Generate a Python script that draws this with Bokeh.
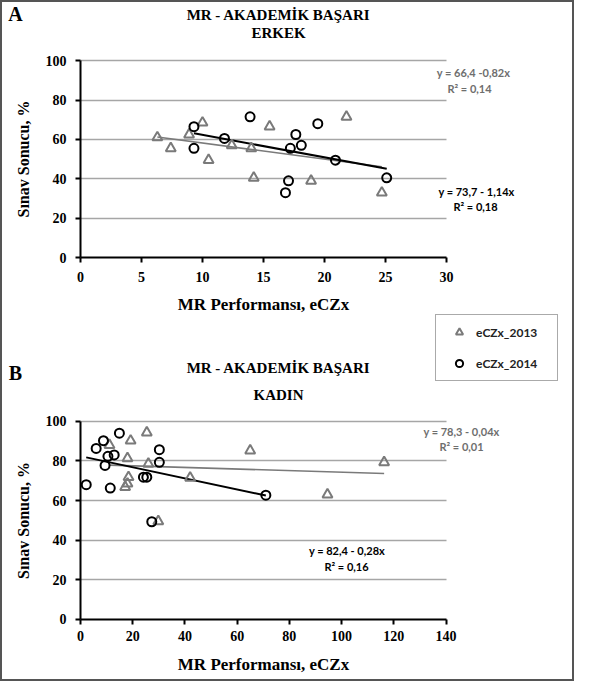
from bokeh.plotting import figure
from bokeh.models import (Range1d, FixedTicker, Label, Legend, LegendItem,
                          LinearAxis, Grid)
from bokeh.embed import file_html
from bokeh.resources import INLINE

# ---------------- data ----------------
# Panel A (ERKEK)
a13_x = [6.3, 7.4, 8.9, 10.0, 10.5, 12.4, 14.0, 14.2, 15.5, 18.9, 21.8, 24.7]
a13_y = [61, 55.5, 62.5, 68.5, 49.5, 57, 55.5, 40.5, 66.5, 39, 71.5, 33]
a14_x = [9.3, 9.3, 11.8, 13.9, 16.8, 17.05, 17.2, 17.65, 18.1, 19.45, 20.9, 25.1]
a14_y = [66.5, 55.5, 60.5, 71.5, 33, 39, 55.5, 62.5, 57, 68, 49.5, 40.5]
a_fit13 = (66.4, -0.82)
a_fit14 = (73.7, -1.14)

# Panel B (KADIN)
b13_x = [11.1, 17.1, 18.0, 18.0, 18.4, 19.2, 25.4, 26.0, 29.8, 42.0, 65.0, 94.6, 116.3]
b13_y = [88, 66.8, 68.5, 81.3, 71.8, 90.2, 94.3, 78.5, 49.5, 71.5, 85.2, 63, 79.3]
b14_x = [2.2, 6.0, 8.8, 9.4, 10.5, 11.4, 12.9, 14.9, 24.1, 25.4, 27.3, 30.2, 30.2, 71.0]
b14_y = [68, 86.3, 90.2, 77.7, 82.3, 66.3, 83, 94, 71.8, 71.8, 49.3, 85.7, 79.3, 62.7]
b_fit13 = (78.3, -0.04)
b_fit14 = (82.4, -0.28)

y_ticks = [0, 20, 40, 60, 80, 100]
a_x_ticks = [0, 5, 10, 15, 20, 25, 30]
b_x_ticks = [0, 20, 40, 60, 80, 100, 120, 140]
A_XMAX, B_XMAX, YMAX = 30, 140, 100

# ---------------- layout (pixels on the canvas) ----------------
W, H = 574, 681
X0PX = 80.0                      # pixel of x = 0 (both panels)
A_X1PX, B_X1PX = 446.0, 445.5    # pixel of x = xmax
A_TOP, A_BOT = 60.1, 257.2       # pixels of y = 100 / y = 0, panel A
B_TOP, B_BOT = 420.8, 618.9      # pixels of y = 100 / y = 0, panel B

GRAY = "#7a7a7a"
SERIF = "'Liberation Serif', 'Times New Roman', serif"
SANS = "Lato"


def span(x0px, x1px, xmax, ytop, ybot):
    sx = (x1px - x0px) / xmax
    sy = (ybot - ytop) / YMAX
    xr = Range1d(-x0px / sx, (W - x0px) / sx)
    yr = Range1d(-(H - ybot) / sy, (ybot) / sy)
    return xr, yr


xrA, yrA = span(X0PX, A_X1PX, A_XMAX, A_TOP, A_BOT)
xrB, yrB = span(X0PX, B_X1PX, B_XMAX, B_TOP, B_BOT)

p = figure(width=W, height=H, output_backend="svg", toolbar_location=None,
           x_range=xrA, y_range=yrA, x_axis_type=None, y_axis_type=None,
           min_border=0, min_border_left=0, min_border_right=0,
           min_border_top=0, min_border_bottom=0)
p.extra_x_ranges = {"xb": xrB}
p.extra_y_ranges = {"yb": yrB}
p.outline_line_color = "#555555"
p.outline_line_width = 3
p.background_fill_color = "white"
p.border_fill_color = "white"


def px(cx, cy):
    """canvas pixel -> data coords of panel A ranges (used for text placement)"""
    x = xrA.start + cx / W * (xrA.end - xrA.start)
    y = yrA.end - cy / H * (yrA.end - yrA.start)
    return x, y


def style_axis(ax):
    ax.axis_line_color = "black"
    ax.axis_line_width = 2
    ax.major_tick_line_color = "black"
    ax.major_tick_line_width = 2
    ax.major_tick_out = 5
    ax.major_tick_in = 0
    ax.minor_tick_line_color = None
    ax.major_label_text_font = SERIF
    ax.major_label_text_font_style = "bold"
    ax.major_label_text_font_size = "14px"
    ax.major_label_text_color = "black"
    ax.axis_label_text_font = SERIF
    ax.axis_label_text_font_style = "bold"
    ax.axis_label_text_color = "black"


def add_axes(xticks, xmax, rn, tick_sd, lab_sd):
    kw = {} if rn is None else {"x_range_name": rn[0], "y_range_name": rn[1]}
    xa = LinearAxis(ticker=FixedTicker(ticks=xticks), bounds=(0, xmax),
                    fixed_location=0, axis_label="MR Performansı, eCZx", **kw)
    style_axis(xa)
    xa.axis_label_text_font_size = "17px"
    xa.major_label_standoff = tick_sd
    xa.axis_label_standoff = lab_sd
    ya = LinearAxis(ticker=FixedTicker(ticks=y_ticks), bounds=(0, YMAX),
                    fixed_location=0, axis_label="Sınav Sonucu, %", **kw)
    style_axis(ya)
    ya.axis_label_text_font_size = "16px"
    ya.major_label_standoff = 9
    ya.axis_label_standoff = 11
    p.add_layout(xa, "below")
    p.add_layout(ya, "left")
    g = Grid(dimension=1, ticker=FixedTicker(ticks=y_ticks[1:]),
             cross_bounds=(0, xmax), grid_line_color="#a6a6a6",
             grid_line_width=1.5, **kw)
    p.add_layout(g)


def fit_line(xs, fit):
    x0, x1 = min(xs), max(xs)
    return [x0, x1], [fit[0] + fit[1] * x0, fit[0] + fit[1] * x1]


def draw(x13, y13, x14, y14, f13, f14, rn=None):
    kw = {} if rn is None else {"x_range_name": rn[0], "y_range_name": rn[1]}
    lx, ly = fit_line(x13, f13)
    p.line(lx, ly, line_color=GRAY, line_width=1.6, **kw)
    lx, ly = fit_line(x14, f14)
    p.line(lx, ly, line_color="black", line_width=2, **kw)
    r13 = p.scatter(x13, y13, marker="triangle", size=10, fill_color=None,
                    line_color=GRAY, line_width=2, **kw)
    r14 = p.scatter(x14, y14, marker="circle", size=9, fill_color=None,
                    line_color="black", line_width=2, **kw)
    return r13, r14


def lbl(cx, cy, text, font=SERIF, size="15px", color="black"):
    x, y = px(cx, cy)
    p.add_layout(Label(x=x, y=y, text=text, text_font=font, text_font_style="bold",
                       text_font_size=size, text_color=color, text_align="center",
                       text_baseline="middle"))


# ---------------- panel A ----------------
add_axes(a_x_ticks, A_XMAX, None, 9, 10)
draw(a13_x, a13_y, a14_x, a14_y, a_fit13, a_fit14)
lbl(15, 13.8, "A", size="20px")
lbl(278, 14.8, "MR - AKADEMİK BAŞARI")
lbl(278, 32.5, "ERKEK")
lbl(473, 71.9, "y = 66,4 -0,82x", font=SANS, size="11px", color="#6e6e6e")
lbl(469, 87.7, "R² = 0,14", font=SANS, size="11px", color="#6e6e6e")
lbl(476, 191.2, "y = 73,7 - 1,14x", font=SANS, size="11px")
lbl(475, 206.0, "R² = 0,18", font=SANS, size="11px")

# ---------------- panel B ----------------
add_axes(b_x_ticks, B_XMAX, ("xb", "yb"), 7, 10)
r13, r14 = draw(b13_x, b13_y, b14_x, b14_y, b_fit13, b_fit14, ("xb", "yb"))
lbl(15, 372.5, "B", size="20px")
lbl(278, 367.6, "MR - AKADEMİK BAŞARI")
lbl(278, 394.2, "KADIN")
lbl(461, 430.6, "y = 78,3 - 0,04x", font=SANS, size="11px", color="#6e6e6e")
lbl(461, 446.4, "R² = 0,01", font=SANS, size="11px", color="#6e6e6e")
lbl(346.5, 550.2, "y = 82,4 - 0,28x", font=SANS, size="11px")
lbl(346, 566.0, "R² = 0,16", font=SANS, size="11px")

legend = Legend(items=[LegendItem(label="eCZx_2013", renderers=[r13]),
                       LegendItem(label="eCZx_2014", renderers=[r14])],
                location=(435, H - 381.4), orientation="vertical",
                padding=8, spacing=13, margin=0,
                glyph_width=30, glyph_height=18, label_height=18, label_width=73,
                label_standoff=2,
                label_text_font=SANS, label_text_font_style="bold",
                label_text_font_size="12px", label_text_color="#222222",
                border_line_color="#555555", border_line_width=1.5,
                background_fill_color="white", background_fill_alpha=1)
p.add_layout(legend, "center")

open("out.html", "w").write(file_html(p, INLINE))
